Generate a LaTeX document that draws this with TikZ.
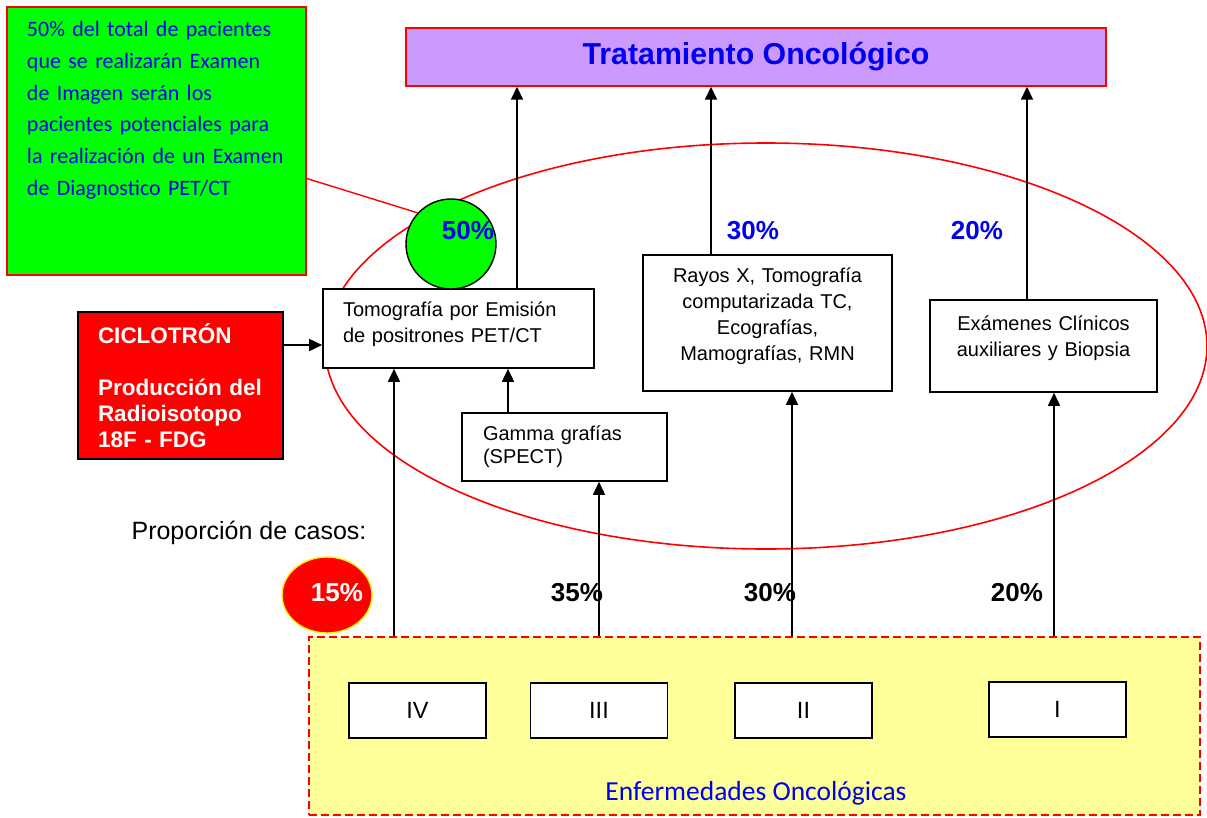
\documentclass[tikz,border=0pt]{standalone}
\usepackage{fontspec}
\setmainfont{Liberation Sans}
\newfontfamily\calibri{Carlito}
\usetikzlibrary{arrows.meta,shapes.geometric}

\definecolor{lila}{RGB}{204,153,255}
\definecolor{verde}{RGB}{0,255,0}
\definecolor{amarillo}{RGB}{255,255,153}
\definecolor{azul}{RGB}{0,0,240}

\tikzset{
    caja/.style={draw=black, line width=1.6pt, fill=white, inner sep=0pt},
    texto/.style={font=\fontsize{20}{26}\selectfont},
    flecha/.style={line width=1.6pt, -{Triangle[length=13pt,width=12pt]}},
    pct/.style={font=\fontsize{26}{30}\selectfont\bfseries, inner sep=0pt},
    etapa/.style={caja, minimum width=137, minimum height=55, font=\fontsize{23.5}{26}\selectfont},
}
\newcommand{\bajo}[1]{\rule[-#1pt]{0pt}{0pt}}

\begin{document}
\begin{tikzpicture}[x=1pt, y=-1pt]
    \useasboundingbox (0,0) rectangle (1207,817);

    \draw[red, line width=1.6pt] (766,346) ellipse [x radius=441, y radius=203];

    \node[draw=red, line width=1.4pt, fill=lila, minimum width=700, minimum height=58,
        font=\fontsize{30.3}{34}\selectfont\bfseries, text=azul] (trat) at (756,57) {Tratamiento Oncológico};

    \node[draw=red, line width=1.4pt, fill=verde, minimum width=299, minimum height=268,
        text width=259, inner xsep=20, align=left, text=azul,
        font=\calibri\fontsize{22}{31.7}\selectfont] (nota) at (156.5,141)
        {\mbox{50\% del total de pacientes}\\\mbox{que se realizarán Examen}\\\mbox{de Imagen serán los}\\\mbox{pacientes potenciales para}\\\mbox{la realización de un Examen}\\\mbox{de Diagnostico PET/CT}\bajo{65}};

    \node[draw=black, line width=1.6pt, fill=red, minimum width=205, minimum height=147,
        text width=165, inner xsep=20, align=left, text=white,
        font=\fontsize{22.5}{26}\selectfont\bfseries] (cicl) at (180.5,385.5)
        {CICLOTRÓN\\[26pt]Producción~del\\Radioisotopo\\18F - FDG};

    \node[caja, texto, minimum width=271, minimum height=79, text width=231, inner xsep=20, align=left] (pet) at (458.5,328.5)
        {Tomografía por Emisión\\de positrones PET/CT\bajo{13}};
    \node[caja, font=\fontsize{20}{23}\selectfont, minimum width=205, minimum height=68, text width=163, inner xsep=21, align=left] (gamma) at (564.5,447)
        {Gamma grafías\\(SPECT)};
    \node[caja, texto, minimum width=249, minimum height=136, text width=209, inner xsep=20, align=center] (rayos) at (767.5,323)
        {Rayos X, Tomografía\\computarizada TC,\\Ecografías,\\Mamografías, RMN\bajo{18}};
    \node[caja, texto, minimum width=227, minimum height=92, text width=187, inner xsep=20, align=center] (exam) at (1043.5,346)
        {Exámenes Clínicos\\auxiliares y Biopsia\bajo{19}};

    \node[circle, draw=black, line width=1.4pt, fill=verde, minimum size=90, inner sep=0pt] (circ) at (451,244) {};
    \draw[red, line width=1.4pt] (nota.-14.6) -- (circ.137);

    \node[pct, text=azul] (p50) at (468,231) {50\%};
    \node[pct, text=azul] (p30a) at (753,231) {30\%};
    \node[pct, text=azul] (p20a) at (977,231) {20\%};

    \node[font=\fontsize{25}{28}\selectfont] (prop) at (249,533) {Proporción de casos:};
    \node[ellipse, draw=yellow, line width=1.4pt, fill=red, minimum width=90, minimum height=76, inner sep=0pt] (c15) at (327,595) {};
    \node[pct, text=white] (p15) at (337,593) {15\%};
    \node[pct] (p35) at (577,593) {35\%};
    \node[pct] (p30b) at (770,593) {30\%};
    \node[pct] (p20b) at (1017,593) {20\%};

    \node[draw=red, dash pattern=on 8pt off 4pt, line width=1.4pt, fill=amarillo,
        minimum width=891, minimum height=178, inner sep=0pt] (enf) at (754.5,726) {};
    \node[font=\calibri\fontsize{27.5}{32}\selectfont, text=azul] (enftxt) at (756,793) {Enfermedades Oncológicas};
    \foreach \n/\x/\y/\t in {iv/417.5/710.5/IV, iii/599/710.5/III, ii/803.5/710.5/II, i/1057.5/709.5/I}
        \node[etapa] (\n) at (\x,\y) {\t};

    \coordinate (xa) at (517,0);
    \coordinate (xb) at (711,0);
    \coordinate (xc) at (1027,0);
    \coordinate (xd) at (508,0);
    \coordinate (xe) at (394,0);
    \coordinate (xf) at (599,0);
    \coordinate (xg) at (792,0);
    \coordinate (xh) at (1054,0);
    \coordinate (ya) at (0,345);

    \draw[flecha] (pet.north -| xa) -- (trat.south -| xa);
    \draw[flecha] (rayos.north -| xb) -- (trat.south -| xb);
    \draw[flecha] (exam.north -| xc) -- (trat.south -| xc);
    \draw[flecha] (cicl.east |- ya) -- (pet.west |- ya);
    \draw[flecha] (gamma.north -| xd) -- (pet.south -| xd);
    \draw[flecha] (enf.north -| xe) -- (pet.south -| xe);
    \draw[flecha] (enf.north -| xf) -- (gamma.south -| xf);
    \draw[flecha] (enf.north -| xg) -- (rayos.south -| xg);
    \draw[flecha] (enf.north -| xh) -- (exam.south -| xh);
\end{tikzpicture}
\end{document}
